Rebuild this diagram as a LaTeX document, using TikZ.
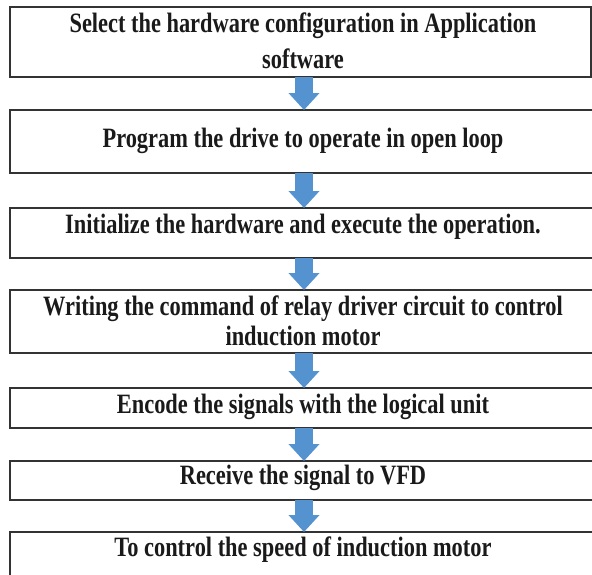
\documentclass[tikz,border=0pt]{standalone}
\usepackage{fontspec}
\setmainfont{Liberation Serif}[FakeStretch=0.8]
\usetikzlibrary{arrows.meta}
\definecolor{arrowblue}{HTML}{5592D0}
\definecolor{boxline}{HTML}{333333}
\definecolor{txt}{HTML}{1A1A1A}
\tikzset{
  stepbox/.style={draw=boxline, line width=2pt, fill=white},
  steptext/.style={anchor=base, inner sep=0pt, text=txt,
    font=\fontsize{28}{34}\selectfont\bfseries},
  blockarrow/.style={draw=arrowblue, line width=18pt,
    -{Triangle[width=30pt,length=17pt]}}
}
\begin{document}
\begin{tikzpicture}[x=1pt,y=-1pt]
\useasboundingbox (0,0) rectangle (592,574);
\clip (0,0) rectangle (592,574);
% boxes
\draw[stepbox] (10,7) rectangle (591,77);
\draw[stepbox] (10,110) rectangle (600,173);
\draw[stepbox] (10,208) rectangle (600,258);
\draw[stepbox] (10,290) rectangle (600,353);
\draw[stepbox] (10,388) rectangle (600,428);
\draw[stepbox] (10,461) rectangle (600,500);
\draw[stepbox] (10,532) rectangle (600,590);
% box anchors
\coordinate (b1s) at (304,77);
\coordinate (b2n) at (304,110);
\coordinate (b2s) at (304,173);
\coordinate (b3n) at (304,208);
\coordinate (b3s) at (304,258);
\coordinate (b4n) at (304,290);
\coordinate (b4s) at (304,353);
\coordinate (b5n) at (304,388);
\coordinate (b5s) at (304,428);
\coordinate (b6n) at (304,461);
\coordinate (b6s) at (304,500);
\coordinate (b7n) at (304,532);
% texts
\node[steptext] (t1a) at (303,32) {Select the hardware configuration in Application};
\node[steptext] (t1b) at (303,68) {software};
\node[steptext] (t2) at (303,147) {Program the drive to operate in open loop};
\node[steptext] (t3) at (303,233) {Initialize the hardware and execute the operation.};
\node[steptext] (t4a) at (303,315) {Writing the command of relay driver circuit to control};
\node[steptext] (t4b) at (303,345) {induction motor};
\node[steptext] (t5) at (303,413) {Encode the signals with the logical unit};
\node[steptext] (t6) at (303,484) {Receive the signal to VFD};
\node[steptext] (t7) at (303,556) {To control the speed of induction motor};
% arrows
\draw[blockarrow] (b1s) -- (b2n);
\draw[blockarrow] (b2s) -- (b3n);
\draw[blockarrow] (b3s) -- (b4n);
\draw[blockarrow] (b4s) -- (b5n);
\draw[blockarrow] (b5s) -- (b6n);
\draw[blockarrow] (b6s) -- (b7n);
\end{tikzpicture}
\end{document}
